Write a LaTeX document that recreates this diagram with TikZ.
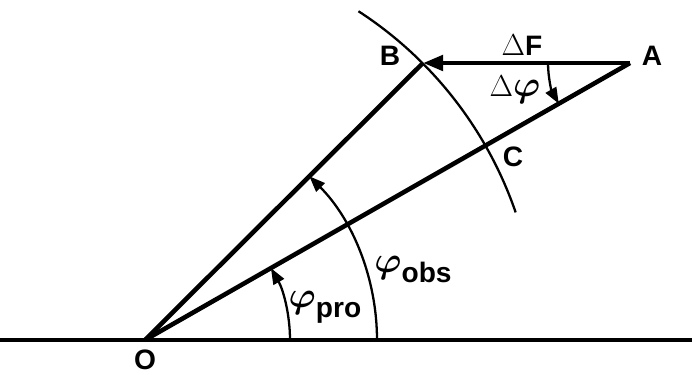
\documentclass[tikz,border=0pt]{standalone}
\usepackage{fontspec}
\setmainfont{Liberation Sans}
\usetikzlibrary{arrows.meta}
\definecolor{fgInk}{HTML}{000000}
\newcommand{\phisym}{{\fontsize{21}{23}\selectfont\boldmath$\varphi$}}
\tikzset{
  ray/.style={line width=2.6pt, draw=fgInk},
  axis/.style={line width=1.8pt, draw=fgInk},
  circarc/.style={line width=1.3pt, draw=fgInk},
  anglearc/.style={line width=1.3pt, draw=fgInk, -{Triangle[length=3.2mm, width=2.4mm]}},
  force/.style={ray, -{Triangle[length=4mm, width=3mm]}},
  lbl/.style={font=\fontsize{16}{18}\selectfont\bfseries, text=fgInk, inner sep=0pt},
}

\begin{document}
\begin{tikzpicture}[x=0.2mm, y=0.2mm]
  \useasboundingbox (0,0) rectangle (692,374);
  % points
  \coordinate (O) at (145,34);
  \coordinate (A) at (630,311);
  \coordinate (B) at (423,311);
  \coordinate (C) at ([shift={(29.73:392)}]O);
  \coordinate (L) at (0,34);
  \coordinate (R) at (692,34);

  % lines
  \draw[axis] (L) -- (R);
  \draw[ray] (O) -- (B);
  \draw[ray] (O) -- (A);
  \draw[force] (A) -- (B);

  % circle through B and C
  \draw[circarc] ([shift={(57:392)}]O) arc[start angle=57, end angle=19, radius=392];

  % angles
  \draw[anglearc] ([shift={(0:232)}]O) arc[start angle=0, end angle=44.9, radius=232];
  \draw[anglearc] ([shift={(0:145)}]O) arc[start angle=0, end angle=29.73, radius=145];
  \draw[anglearc] ([shift={(180:82)}]A) arc[start angle=180, end angle=209.73, radius=82];

  % labels
  \node[lbl] (lO) at (145,14) {O};
  \node[lbl] (lA) at (652,318) {A};
  \node[lbl] (lB) at (390,318) {B};
  \node[lbl] (lC) at (513,217) {C};
  \node[lbl] (lF) at (522,329) {$\Delta$F};
  \node[lbl] (ldphi) at (515,284) {$\Delta$\phisym};
  \node[lbl] (lobs) at (413,104) {\phisym\raisebox{-2mm}{obs}};
  \node[lbl] (lpro) at (325,67) {\phisym\raisebox{-2mm}{pro}};
\end{tikzpicture}
\end{document}
